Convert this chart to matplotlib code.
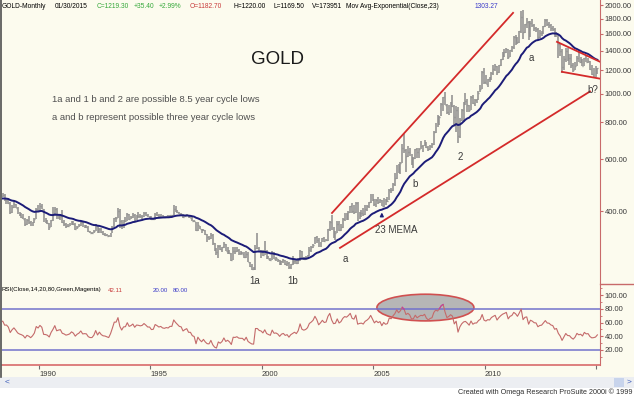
import numpy as np
import matplotlib
matplotlib.use('Agg')
from matplotlib import pyplot as plt
from matplotlib.patches import Ellipse, Rectangle
from matplotlib.lines import Line2D
from matplotlib.ticker import FixedLocator, NullLocator, FormatStrFormatter

plt.rcParams['font.family'] = ['Liberation Sans', 'DejaVu Sans']

# monthly gold, first bar = Jan 1988 (1987 closes only feed the indicators)
first_year = 1988
warmup_close = [400, 405, 420, 452, 451, 447, 462, 453, 459, 469, 492, 484]

close = [
    458, 426, 457, 451, 455, 436, 437, 427, 397, 412, 423, 410,
    394, 387, 383, 377, 362, 373, 368, 359, 366, 377, 408, 401,
    415, 407, 368, 367, 363, 352, 372, 387, 408, 380, 384, 386,
    366, 362, 355, 357, 360, 368, 362, 347, 354, 358, 366, 353,
    354, 353, 341, 337, 337, 343, 357, 340, 349, 339, 334, 333,
    330, 327, 337, 354, 378, 378, 401, 371, 355, 370, 371, 392,
    377, 381, 389, 376, 387, 386, 384, 386, 394, 389, 383, 383,
    375, 376, 392, 389, 385, 387, 383, 382, 384, 383, 387, 387,
    405, 400, 396, 392, 391, 382, 385, 387, 379, 379, 371, 369,
    345, 358, 348, 340, 345, 334, 326, 325, 332, 311, 296, 290,
    304, 297, 301, 310, 293, 296, 288, 273, 293, 292, 294, 288,
    287, 287, 279, 286, 268, 261, 255, 254, 299, 299, 292, 290,
    283, 293, 279, 275, 272, 288, 276, 277, 273, 264, 270, 272,
    265, 267, 258, 264, 267, 270, 266, 273, 293, 278, 275, 277,
    282, 296, 301, 308, 326, 318, 304, 312, 323, 317, 319, 347,
    367, 347, 334, 336, 361, 346, 354, 375, 388, 386, 398, 416,
    399, 396, 427, 388, 393, 395, 391, 408, 416, 428, 453, 438,
    422, 435, 428, 435, 417, 437, 429, 433, 473, 470, 495, 517,
    569, 556, 584, 654, 643, 614, 633, 624, 599, 604, 648, 632,
    650, 665, 663, 681, 660, 650, 665, 673, 743, 789, 783, 834,
    923, 972, 916, 865, 886, 925, 912, 832, 880, 718, 815, 883,
    928, 942, 916, 884, 978, 927, 954, 955, 1008, 1040, 1181, 1096,
    1081, 1118, 1113, 1180, 1215, 1245, 1181, 1248, 1307, 1357, 1386, 1421,
    1333, 1411, 1439, 1556, 1536, 1500, 1628, 1828, 1620, 1725, 1746, 1566,
    1737, 1711, 1669, 1664, 1562, 1604, 1615, 1692, 1774, 1719, 1713, 1675,
    1662, 1578, 1596, 1472, 1392, 1234, 1313, 1396, 1327, 1323, 1250, 1202,
    1244, 1326, 1284, 1296, 1246, 1322, 1282, 1287, 1210, 1171, 1175, 1184,
    1219.3,
]

high = [
    486, 458, 461, 459, 461, 456, 444, 441, 428, 418, 436, 424,
    412, 398, 395, 392, 378, 375, 384, 370, 368, 378, 410, 419,
    425, 424, 408, 378, 373, 363, 373, 414, 412, 410, 388, 390,
    403, 372, 365, 362, 363, 371, 370, 363, 356, 361, 370, 368,
    360, 359, 355, 343, 339, 344, 362, 358, 350, 350, 341, 337,
    334, 333, 338, 355, 378, 381, 410, 406, 373, 373, 381, 393,
    392, 384, 393, 392, 389, 396, 390, 388, 398, 396, 390, 385,
    384, 380, 393, 396, 390, 391, 389, 386, 386, 387, 389, 389,
    418, 416, 403, 398, 394, 391, 389, 392, 388, 384, 382, 374,
    368, 366, 357, 349, 348, 345, 334, 329, 338, 335, 312, 299,
    307, 306, 302, 314, 310, 301, 296, 288, 301, 302, 302, 298,
    293, 291, 290, 292, 290, 269, 265, 258, 308, 338, 303, 296,
    294, 316, 295, 282, 277, 293, 290, 280, 276, 273, 271, 276,
    272, 270, 268, 265, 282, 276, 272, 278, 295, 293, 280, 282,
    284, 301, 304, 309, 327, 328, 323, 313, 324, 326, 322, 348,
    371, 389, 354, 341, 371, 370, 361, 378, 395, 394, 401, 417,
    427, 419, 428, 429, 396, 402, 409, 418, 419, 430, 456, 457,
    440, 438, 445, 438, 436, 444, 438, 447, 474, 479, 498, 539,
    573, 577, 588, 676, 733, 647, 665, 654, 627, 611, 650, 656,
    657, 692, 668, 695, 687, 666, 671, 682, 746, 794, 845, 838,
    933, 976, 1011, 922, 916, 934, 988, 915, 908, 905, 826, 889,
    936, 1007, 963, 917, 980, 989, 961, 962, 1024, 1071, 1195, 1227,
    1162, 1126, 1136, 1184, 1249, 1265, 1246, 1254, 1310, 1388, 1424, 1431,
    1424, 1412, 1447, 1576, 1578, 1554, 1632, 1912, 1923, 1730, 1804, 1763,
    1764, 1791, 1720, 1679, 1666, 1641, 1631, 1693, 1790, 1798, 1754, 1725,
    1694, 1676, 1617, 1600, 1488, 1424, 1348, 1434, 1434, 1361, 1361, 1267,
    1280, 1345, 1392, 1331, 1315, 1326, 1345, 1324, 1289, 1255, 1225, 1240,
    1220,
]

low = [
    450, 420, 423, 440, 446, 433, 422, 424, 392, 394, 410, 409,
    392, 384, 378, 375, 357, 358, 362, 355, 356, 364, 375, 398,
    398, 406, 366, 365, 362, 346, 352, 371, 385, 375, 376, 374,
    365, 357, 351, 354, 355, 358, 360, 346, 347, 353, 357, 352,
    350, 350, 340, 336, 334, 337, 343, 337, 338, 338, 331, 330,
    328, 326, 326, 337, 353, 366, 378, 350, 348, 350, 367, 371,
    374, 375, 378, 369, 374, 380, 380, 376, 383, 385, 382, 377,
    372, 372, 374, 386, 383, 383, 382, 380, 381, 381, 383, 384,
    387, 398, 394, 390, 389, 380, 381, 385, 378, 378, 370, 367,
    343, 341, 348, 336, 341, 332, 315, 320, 321, 306, 292, 283,
    278, 294, 291, 300, 292, 286, 287, 271, 273, 287, 290, 284,
    284, 285, 278, 278, 268, 258, 253, 252, 253, 297, 290, 278,
    282, 284, 276, 274, 270, 272, 276, 271, 269, 263, 263, 267,
    263, 260, 255, 255, 262, 264, 264, 264, 270, 277, 272, 272,
    277, 281, 290, 299, 310, 312, 301, 302, 313, 315, 316, 316,
    342, 345, 324, 320, 336, 342, 342, 351, 370, 372, 372, 393,
    394, 392, 393, 371, 375, 383, 386, 389, 401, 411, 426, 434,
    417, 413, 424, 425, 415, 414, 418, 429, 435, 461, 467, 488,
    514, 540, 536, 580, 628, 543, 608, 614, 573, 560, 600, 606,
    604, 647, 636, 663, 654, 639, 646, 653, 669, 735, 774, 781,
    838, 877, 913, 855, 849, 861, 903, 782, 740, 681, 705, 807,
    802, 917, 866, 865, 882, 921, 909, 933, 952, 1016, 1036, 1075,
    1075, 1058, 1096, 1115, 1160, 1199, 1158, 1177, 1238, 1305, 1330, 1377,
    1310, 1329, 1381, 1420, 1462, 1479, 1481, 1602, 1534, 1604, 1672, 1523,
    1563, 1686, 1628, 1614, 1527, 1546, 1564, 1592, 1683, 1693, 1673, 1636,
    1627, 1555, 1562, 1321, 1338, 1180, 1208, 1284, 1292, 1251, 1227, 1182,
    1203, 1239, 1277, 1268, 1240, 1240, 1281, 1273, 1206, 1161, 1131, 1142,
    1169.5,
]

price_ticks = [400, 600, 800, 1000, 1200, 1400, 1600, 1800, 2000]
rsi_ticks = [20, 40, 60, 80, 100]
year_ticks = [1990, 1995, 2000, 2005, 2010, 2015]
year_labels = ['1990', '1995', '2000', '2005', '2010', '']

# hand drawn trend lines (year, price)
channel_top_x, channel_top_y = [2003.14, 2011.26], [394, 1881]
channel_low_x, channel_low_y = [2003.5, 2014.71], [300, 1018]
wedge_top_x, wedge_top_y = [2013.23, 2015.16], [1500, 1284]
wedge_low_x, wedge_low_y = [2013.45, 2015.16], [1187, 1125]

cycle_labels = [('1a', 1999.69, 232), ('1b', 2001.39, 232), ('a', 2003.72, 276),
                ('b', 2006.86, 494), ('2', 2008.88, 612), ('a', 2012.06, 1320),
                ('b?', 2014.84, 1030)]

# ---- indicators, the way the chart defines them ------------------------------
all_close = np.array(warmup_close + close, dtype=float)
alpha = 2.0 / (23 + 1)
ema = np.empty_like(all_close)
ema[0] = all_close[0]
for i in range(1, len(all_close)):
    ema[i] = ema[i - 1] + alpha * (all_close[i] - ema[i - 1])

d = np.diff(all_close)
gain = np.clip(d, 0, None)
loss = np.clip(-d, 0, None)
rsi = np.full(len(all_close), np.nan)
ag, al = gain[:14].mean(), loss[:14].mean()
rsi[14] = 100 - 100 / (1 + ag / al)
for i in range(14, len(d)):
    ag = (ag * 13 + gain[i]) / 14
    al = (al * 13 + loss[i]) / 14
    rsi[i + 1] = 100 - 100 / (1 + ag / al)

nw = len(warmup_close)
t_all = first_year - 1 + (np.arange(len(all_close)) + 0.5) / 12
t = t_all[nw:]
ema_v = ema[nw:]
rsi_v = rsi[nw:]

# ---- figure ------------------------------------------------------------------
W, H = 634, 397
bg = '#fcfbee'
red_ax = '#c86a6a'
txt = '#3a3a3a'
fig = plt.figure(figsize=(W / 100, H / 100), dpi=100, facecolor=bg)

def fx(px):
    return px / W

def fy(py):
    return 1 - py / H

xlo, xhi = 1988.34, 2015.16
ax = fig.add_axes([fx(2), fy(283), fx(598), 283 / H], facecolor=bg)
ax2 = fig.add_axes([fx(2), fy(365), fx(598), 80 / H], facecolor=bg)

# price bars
ax.vlines(t, low, high, color='#8c8c8c', lw=1.1, zorder=2)
ax.hlines(close, t, t + 0.035, color='#8c8c8c', lw=1.0, zorder=2)
ax.plot(t, ema_v, color='#1c1c78', lw=1.4, zorder=3)

for xs, ys in [(channel_top_x, channel_top_y), (channel_low_x, channel_low_y),
               (wedge_top_x, wedge_top_y), (wedge_low_x, wedge_low_y)]:
    ax.plot(xs, ys, color='#d42a2a', lw=1.3, zorder=4)

for s, xv, yv in cycle_labels:
    ax.text(xv, yv, s, fontsize=7, color=txt, ha='center', va='center', zorder=5)

i_mema = int(np.argmin(np.abs(t - 2005.4)))
ax.annotate('', xy=(t[i_mema], ema_v[i_mema]), xytext=(t[i_mema], ema_v[i_mema] * 0.93),
            arrowprops=dict(arrowstyle='-|>', color='#1c1c78', lw=1.0, mutation_scale=5))
ax.text(2005.07, 345, '23 MEMA', fontsize=7, color=txt, ha='left', va='center')

ax.set_yscale('log')
ax.set_xlim(xlo, xhi)
ax.set_ylim(228, 2080)
ax.yaxis.tick_right()
ax.yaxis.set_major_locator(FixedLocator(price_ticks))
ax.yaxis.set_minor_locator(NullLocator())
ax.yaxis.set_major_formatter(FormatStrFormatter('%.2f'))
ax.set_xticks([])
ax.tick_params(axis='y', labelsize=5.5, labelcolor=txt, color=red_ax, length=2.5, pad=1)
for side in ['top', 'left', 'bottom']:
    ax.spines[side].set_visible(False)
ax.spines['right'].set_color(red_ax)

# RSI panel
ell = Ellipse((2007.33, 82), width=4.35, height=39, facecolor='#b6b6b6',
              edgecolor='#d05050', lw=1.2, zorder=1)
ax2.add_patch(ell)
ax2.axhline(80, color='#7272cc', lw=1.1, zorder=2)
ax2.axhline(20, color='#7272cc', lw=1.1, zorder=2)
ax2.plot(t, rsi_v, color='#c46a6a', lw=0.8, zorder=3)
ax2.plot(t, np.where(rsi_v >= 78, rsi_v, np.nan), color='#c040a0', lw=0.8, zorder=3)
ax2.set_xlim(xlo, xhi)
ax2.set_ylim(-2, 115)
ax2.yaxis.tick_right()
ax2.yaxis.set_major_locator(FixedLocator(rsi_ticks))
ax2.yaxis.set_minor_locator(FixedLocator([10, 30, 50, 70, 90, 110]))
ax2.yaxis.set_major_formatter(FormatStrFormatter('%.2f'))
ax2.tick_params(axis='y', which='both', labelsize=5.5, labelcolor=txt, color=red_ax, pad=1)
ax2.tick_params(axis='y', which='major', length=2.5)
ax2.tick_params(axis='y', which='minor', length=1.5)
ax2.set_xticks(year_ticks)
ax2.set_xticklabels(year_labels, ha='left')
ax2.tick_params(axis='x', labelsize=5.5, labelcolor=txt, color='#707070', length=3, pad=1)
for side in ['top', 'left']:
    ax2.spines[side].set_visible(False)
ax2.spines['right'].set_color(red_ax)
ax2.spines['bottom'].set_color('#d86a6a')
ax2.spines['bottom'].set_linewidth(1.2)

# headers
hdr = [('GOLD-Monthly', 2, 'black'), ('01/30/2015', 55, 'black'), ('C=1219.30', 97, '#35a83a'),
       ('+35.40', 134, '#35a83a'), ('+2.99%', 159, '#35a83a'), ('O=1182.70', 190, '#c83a3a'),
       ('H=1220.00', 234, 'black'), ('L=1169.50', 273, 'black'), ('V=173951', 312, 'black'),
       ('Mov Avg-Exponential(Close,23)', 346, 'black'), ('1303.27', 475, '#3a3ac8')]
for s, px, c in hdr:
    fig.text(fx(px), fy(6), s, fontsize=4.8, color=c, ha='left', va='center')

rsi_hdr = [('RSI(Close,14,20,80,Green,Magenta)', 2, 'black'), ('42.11', 108, '#c83a3a'),
           ('20.00', 153, '#3a3ac8'), ('80.00', 173, '#3a3ac8')]
for s, px, c in rsi_hdr:
    fig.text(fx(px), fy(290), s, fontsize=4.4, color=c, ha='left', va='center')

fig.text(fx(277), fy(60), 'GOLD', fontsize=13.5, color='#1a1a1a', ha='center', va='center')
fig.text(fx(52), fy(100), '1a and 1 b and 2 are possible 8.5 year cycle lows',
         fontsize=6.8, color='#505050', ha='left', va='center')
fig.text(fx(52), fy(118), 'a and b represent possible three year cycle lows',
         fontsize=6.8, color='#505050', ha='left', va='center')

# window chrome: left border, short separator, scroll bar, footer
fig.add_artist(Line2D([fx(1), fx(1)], [fy(0), fy(377)], color='#505050', lw=1.2))
fig.add_artist(Line2D([fx(600), fx(634)], [fy(283.5), fy(283.5)], color=red_ax, lw=1.0))
fig.add_artist(Rectangle((0, 0), 1, fy(388), facecolor='white', edgecolor='none'))
fig.add_artist(Rectangle((0, fy(388)), 1, 11 / H, facecolor='#eceef2', edgecolor='none'))
fig.text(fx(5), fy(382.5), '<', fontsize=6, color='#3a5ab8', ha='left', va='center')
fig.add_artist(Rectangle((fx(614), fy(387)), fx(10), 9 / H, facecolor='#c8d4ec', edgecolor='none'))
fig.text(fx(629), fy(382.5), '>', fontsize=6, color='#3a5ab8', ha='center', va='center')
fig.text(fx(632), fy(392), 'Created with Omega Research ProSuite 2000i \u00a9 1999',
         fontsize=5.2, color='#303030', ha='right', va='center')

fig.savefig('out.png', dpi=100, facecolor=bg)
